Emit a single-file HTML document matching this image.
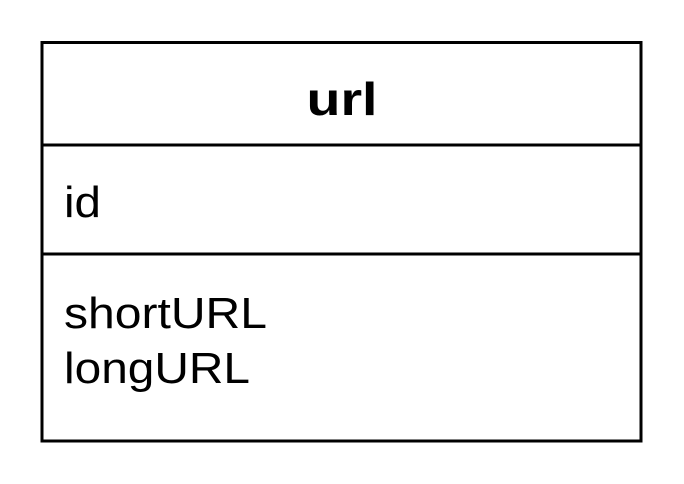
<!DOCTYPE html>
<html><head><meta charset="utf-8"><style>
html,body{margin:0;padding:0;background:#fff;width:684px;height:484px;overflow:hidden}
text{font-family:"Liberation Sans",sans-serif;fill:#000}
</style></head><body>
<svg width="684" height="484" style="position:absolute;left:0;top:0">
<rect x="42" y="42.5" width="599" height="398.5" fill="#fff" stroke="#000" stroke-width="3"/>
<line x1="42" y1="145" x2="641" y2="145" stroke="#000" stroke-width="3"/>
<line x1="42" y1="254" x2="641" y2="254" stroke="#000" stroke-width="3"/>
<text x="342" y="115" font-size="46" font-weight="bold" text-anchor="middle" textLength="71" lengthAdjust="spacingAndGlyphs">url</text>
<text x="64" y="217" font-size="44" textLength="37" lengthAdjust="spacingAndGlyphs">id</text>
<text x="64" y="328" font-size="44" textLength="203" lengthAdjust="spacingAndGlyphs">shortURL</text>
<text x="64" y="383" font-size="44" textLength="186" lengthAdjust="spacingAndGlyphs">longURL</text>
</svg>
</body></html>
